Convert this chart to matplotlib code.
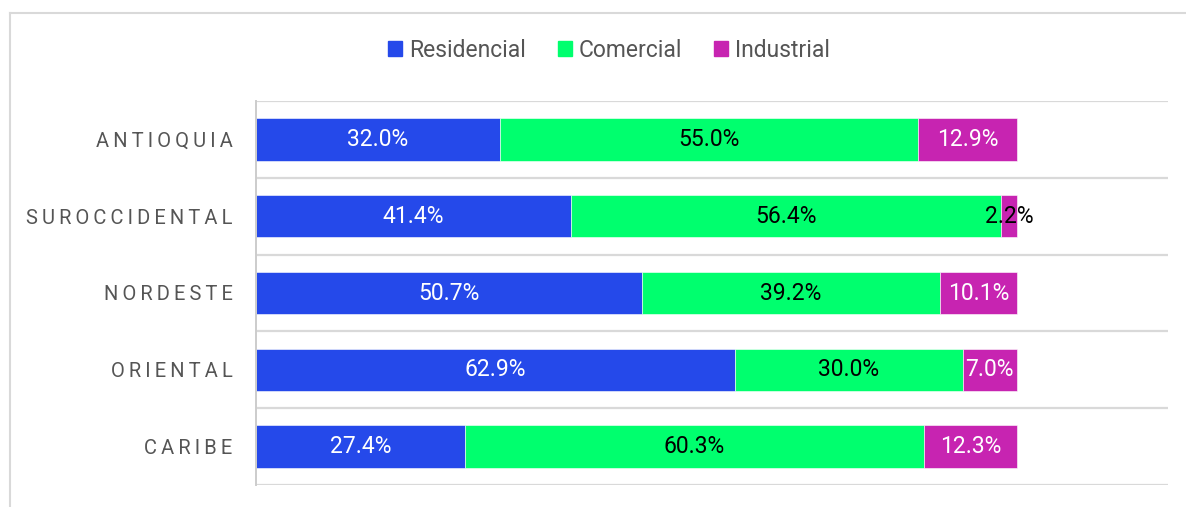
import matplotlib.pyplot as plt
from matplotlib.lines import Line2D
from matplotlib.patches import Rectangle

plt.rcParams['font.family'] = ['Roboto', 'DejaVu Sans']

regions = ["ANTIOQUIA", "SUROCCIDENTAL", "NORDESTE", "ORIENTAL", "CARIBE"]
residencial = [32.0, 41.4, 50.7, 62.9, 27.4]
comercial = [55.0, 56.4, 39.2, 30.0, 60.3]
industrial = [12.9, 2.2, 10.1, 7.0, 12.3]

series = [
    ("Residencial", residencial, "#2549EA", "white"),
    ("Comercial", comercial, "#00FF6E", "black"),
    ("Industrial", industrial, "#C724B1", "white"),
]

W, H = 1186, 507
fig = plt.figure(figsize=(W / 100, H / 100), dpi=100)
ax = fig.add_axes([256 / W, 1 - 485 / H, (1168 - 256) / W, (485 - 101) / H])

ypos = list(range(len(regions)))
left = [0.0] * len(regions)
handles = []
for name, vals, color, txtcolor in series:
    bars = ax.barh(ypos, vals, left=left, height=0.55, color=color,
                   edgecolor="white", linewidth=0.4, label=name)
    handles.append(Rectangle((0, 0), 1, 1, color=color))
    for y, v, l in zip(ypos, vals, left):
        c = txtcolor if v > 4 else "black"
        ax.text(l + v / 2, y, f"{v:.1f}%", ha="center", va="center",
                color=c, fontsize=16.5)
    left = [a + b for a, b in zip(left, vals)]

ax.set_xlim(0, 119.8)
ax.set_ylim(len(regions) - 0.5, -0.5)
ax.set_xticks([])
ax.set_yticks(ypos)
ax.set_yticklabels(["\u2009".join(r) for r in regions], color="#555555",
                   fontsize=14.5)
ax.tick_params(axis="y", length=0, pad=17)

for b in [i - 0.5 for i in range(len(regions) + 1)]:
    ax.axhline(b, color="#d9d9d9", linewidth=1.6, zorder=0)

for s in ["top", "right", "bottom"]:
    ax.spines[s].set_visible(False)
ax.spines["left"].set_color("#cccccc")
ax.spines["left"].set_linewidth(1.4)

# outer frame
fig.add_artist(Line2D([9.5 / W, 9.5 / W], [0, 1 - 12.5 / H],
                      color="#d9d9d9", linewidth=1.5, transform=fig.transFigure))
fig.add_artist(Line2D([9.5 / W, 1], [1 - 12.5 / H, 1 - 12.5 / H],
                      color="#d9d9d9", linewidth=1.5, transform=fig.transFigure))

fig.legend(handles, [s[0] for s in series], loc="center",
           bbox_to_anchor=(609 / W, 1 - 50 / H), ncol=3, frameon=False,
           fontsize=16.5, handlelength=0.6, handleheight=0.6, handletextpad=0.3,
           columnspacing=1.4, labelcolor="#555555")

fig.savefig("out.png", dpi=100)
